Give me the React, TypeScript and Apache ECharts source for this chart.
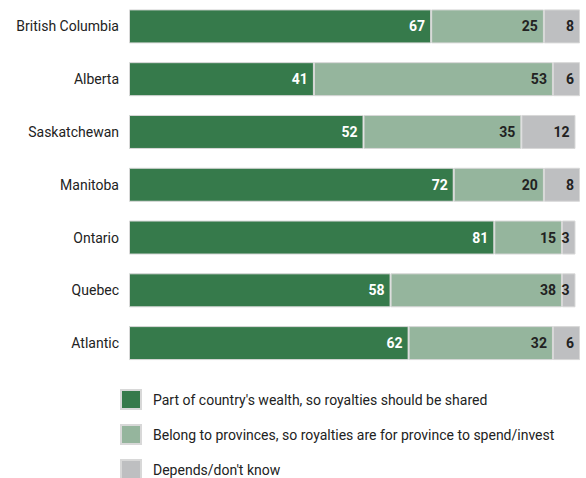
import React, { useEffect, useRef } from "react";
import * as echarts from "echarts";

const categories = ["British Columbia", "Alberta", "Saskatchewan", "Manitoba", "Ontario", "Quebec", "Atlantic"];
const shared = [67, 41, 52, 72, 81, 58, 62];
const provinces = [25, 53, 35, 20, 15, 38, 32];
const dontKnow = [8, 6, 12, 8, 3, 3, 6];
const seriesNames = [
  "Part of country's wealth, so royalties should be shared",
  "Belong to provinces, so royalties are for province to spend/invest",
  "Depends/don't know",
];

const FONT = "Roboto, 'Liberation Sans', sans-serif";

export default function App() {
  const ref = useRef<HTMLDivElement>(null);
  useEffect(() => {
    const chart = echarts.init(ref.current!, undefined, { renderer: "svg" });
    const colors = ["#367a4b", "#95b59d", "#bebfc1"];
    const labelColors = ["#ffffff", "#222222", "#222222"];
    const datas = [shared, provinces, dontKnow];
    chart.setOption({
      animation: false,
      textStyle: { fontFamily: FONT },
      grid: { left: 129, right: 6, top: -2.5, height: 372, containLabel: false },
      legend: {
        orient: "vertical",
        left: 120,
        top: 389,
        height: 120,
        padding: 0,
        itemWidth: 20,
        itemHeight: 19,
        itemGap: 14,
        icon: "rect",
        textStyle: { fontSize: 14, color: "#222", fontFamily: FONT, padding: [0, 0, 0, 7] },
        data: seriesNames,
      },
      xAxis: { type: "value", min: 0, max: 100, show: false },
      yAxis: {
        type: "category",
        data: categories,
        inverse: true,
        axisLine: { show: false },
        axisTick: { show: false },
        axisLabel: { fontSize: 14, color: "#222", fontFamily: FONT, margin: 10 },
      },
      series: datas.map((d, i) => ({
        name: seriesNames[i],
        type: "bar",
        stack: "total",
        data: d,
        barWidth: 34,
        itemStyle: { color: colors[i], borderColor: "#d8d8d8", borderWidth: 1 },
        label: {
          show: true,
          position: "insideRight",
          distance: 6,
          fontSize: 14,
          fontWeight: "bold",
          color: labelColors[i],
          fontFamily: FONT,
        },
      })),
    });
    return () => chart.dispose();
  }, []);
  return (
    <div
      ref={ref}
      style={{ position: "fixed", left: 0, top: 0, width: 586, height: 478, background: "#fff" }}
    />
  );
}
